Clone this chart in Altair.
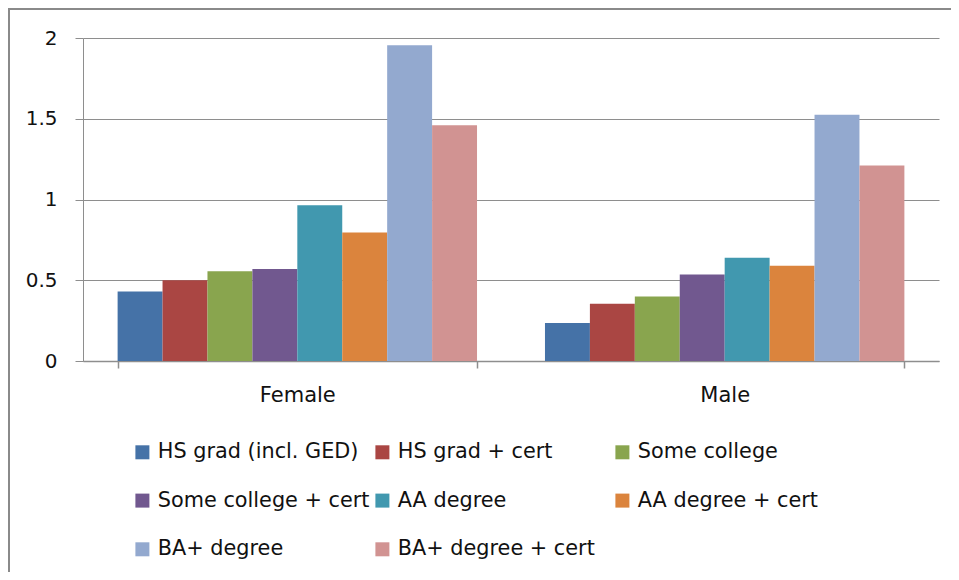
import altair as alt
import pandas as pd

genders = ["Female", "Male"]
categories = [
    "HS grad (incl. GED)", "HS grad + cert", "Some college",
    "Some college + cert", "AA degree", "AA degree + cert",
    "BA+ degree", "BA+ degree + cert",
]
female_values = [0.43, 0.50, 0.555, 0.57, 0.965, 0.795, 1.955, 1.46]
male_values = [0.235, 0.355, 0.40, 0.535, 0.64, 0.59, 1.525, 1.21]
colors = ["#4572A7", "#AA4643", "#89A54E", "#71588F", "#4198AF", "#DB843D", "#93A9CF", "#D19392"]
y_ticks = [0, 0.5, 1, 1.5, 2]

rows = []
for g, vals in zip(genders, [female_values, male_values]):
    for c, v in zip(categories, vals):
        rows.append({"gender": g, "cat": c, "value": v})
df = pd.DataFrame(rows)

FONT = "DejaVu Sans"
GRAY = "#8E8E8E"
TXT = "#111111"

bars = alt.Chart(df).mark_bar().encode(
    x=alt.X("gender:N", sort=genders,
            scale=alt.Scale(paddingInner=0.159, paddingOuter=0.081),
            axis=alt.Axis(title=None, labelAngle=0, tickBand="extent", tickSize=7,
                          labelPadding=16, labelFontSize=21, labelColor=TXT,
                          labelFont=FONT, domainColor=GRAY, tickColor=GRAY,
                          domainWidth=1.5, tickWidth=1.5)),
    xOffset=alt.XOffset("cat:N", sort=categories,
                        scale=alt.Scale(paddingInner=0, paddingOuter=0)),
    y=alt.Y("value:Q", scale=alt.Scale(domain=[0, 2], nice=False),
            axis=alt.Axis(title=None, values=y_ticks, format="~g", tickSize=8,
                          labelPadding=18, labelFontSize=20, labelColor=TXT,
                          labelFont=FONT, domainColor=GRAY, tickColor=GRAY,
                          gridColor=GRAY, grid=True, domainWidth=1, tickWidth=1)),
    color=alt.Color("cat:N", sort=categories,
                    scale=alt.Scale(domain=categories, range=colors),
                    legend=alt.Legend(title=None, orient="none", legendX=49, legendY=403.5,
                                      direction="horizontal", columns=3, gridAlign="all",
                                      symbolType="square", symbolSize=196,
                                      symbolStrokeWidth=0, labelFont=FONT,
                                      labelFontSize=20.8, labelColor=TXT,
                                      labelOffset=5, columnPadding=2, rowPadding=26.7,
                                      labelLimit=400)),
)

border_df = pd.DataFrame({"a": [0]})
left_edge = alt.Chart(border_df).mark_rule(stroke="#8a8a8a", strokeWidth=2).encode(
    x=alt.value(-74), y=alt.value(-30), y2=alt.value(534))
top_edge = alt.Chart(border_df).mark_rule(stroke="#8a8a8a", strokeWidth=2).encode(
    x=alt.value(-75), x2=alt.value(868), y=alt.value(-29))

chart = alt.layer(left_edge, top_edge, bars).properties(
    width=856, height=323,
    autosize=alt.AutoSizeParams(type="none"),
    padding={"left": 75, "top": 30, "right": 12, "bottom": 211},
).configure_view(strokeWidth=0)

chart.save("out.html", embed_options={"renderer": "svg", "actions": False})
